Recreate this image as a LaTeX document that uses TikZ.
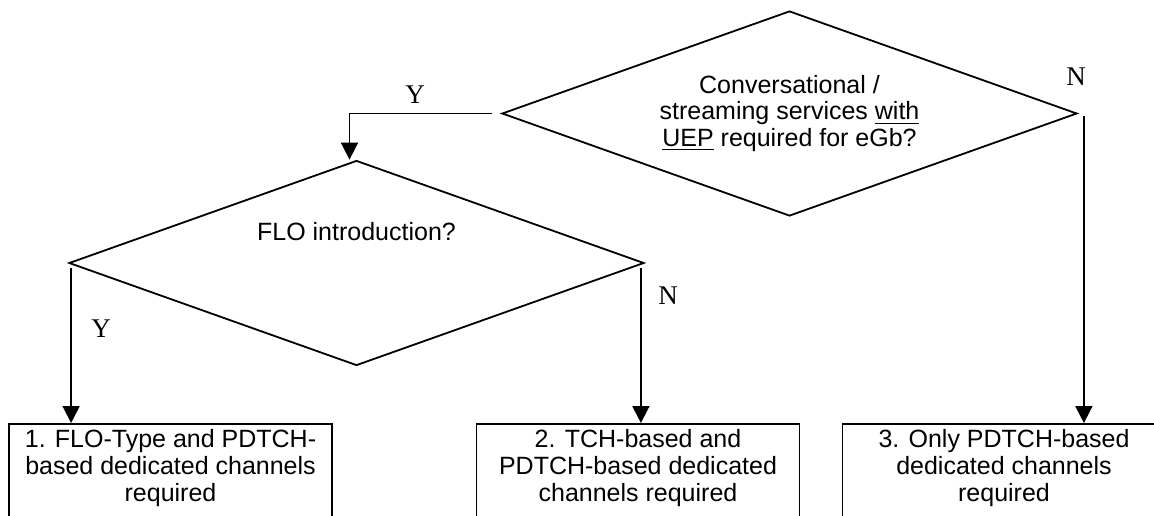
\documentclass[tikz,border=0pt]{standalone}
\usepackage{fontspec}
\setmainfont{Liberation Sans}
\newfontfamily\lblserif{Liberation Serif}
\usetikzlibrary{shapes.geometric,arrows.meta,calc}
\begin{document}
\begin{tikzpicture}[x=0.5pt,y=-0.5pt,
  ln/.style={line width=0.9pt},
  decision/.style={diamond, draw, ln, inner sep=0pt, aspect=2.8,
    minimum width=287.5pt, minimum height=102.5pt,
    font=\fontsize{12.5}{13.3}\selectfont, align=center},
  outbox/.style={rectangle, draw, ln, anchor=north, inner sep=0pt,
    minimum width=161.5pt, minimum height=60pt},
  boxtext/.style={font=\fontsize{12.5}{13.6}\selectfont, align=center, inner sep=0pt},
  qtext/.style={font=\fontsize{12.5}{13.3}\selectfont, align=center, inner sep=0pt},
  yn/.style={font=\lblserif\fontsize{13.5}{14}\selectfont, inner sep=0pt},
  arr/.style={ln, -{Triangle[width=8.5pt,length=8.5pt]}}
]
\useasboundingbox (0,0) rectangle (1154,515);
\clip (0,0) rectangle (1154,515);

% decisions
\node[decision] (q1) at (789.5,113.5) {Conversational /\\streaming services \underline{with}\\\underline{UEP} required for eGb?};
\node[decision] (q2) at (356.5,263) {};
\node[qtext] (q2t) at (356.5,232) {FLO introduction?};

% result boxes
\node[outbox] (r1) at (170.5,423) {};
\node[outbox] (r2) at (638,423) {};
\node[outbox] (r3) at (1004,423) {};
\node[boxtext] (r1t) at (170.5,468) {1. FLO-Type and PDTCH-\\based dedicated channels\\required};
\node[boxtext] (r2t) at (638,468) {2. TCH-based and\\PDTCH-based dedicated\\channels required};
\node[boxtext] (r3t) at (1004,468) {3. Only PDTCH-based\\dedicated channels\\required};

% connectors
\draw[arr] ($(q1.west)+(-9,0)$) -| ($(q2.north)+(-7,0)$);
\coordinate (a1) at ($(q2.west)+(3,5)$);
\draw[arr] (a1) -- (a1 |- r1.north);
\coordinate (a2) at ($(q2.east)+(-4,5)$);
\draw[arr] (a2) -- (a2 |- r2.north);
\coordinate (a3) at ($(q1.east)+(6,2)$);
\draw[arr] (a3) -- (a3 |- r3.north);

% labels
\node[yn] (ly1) at (415,95) {Y};
\node[yn] (ln1) at (1076,77) {N};
\node[yn] (ly2) at (101,329) {Y};
\node[yn] (ln2) at (668,296) {N};
\end{tikzpicture}
\end{document}
